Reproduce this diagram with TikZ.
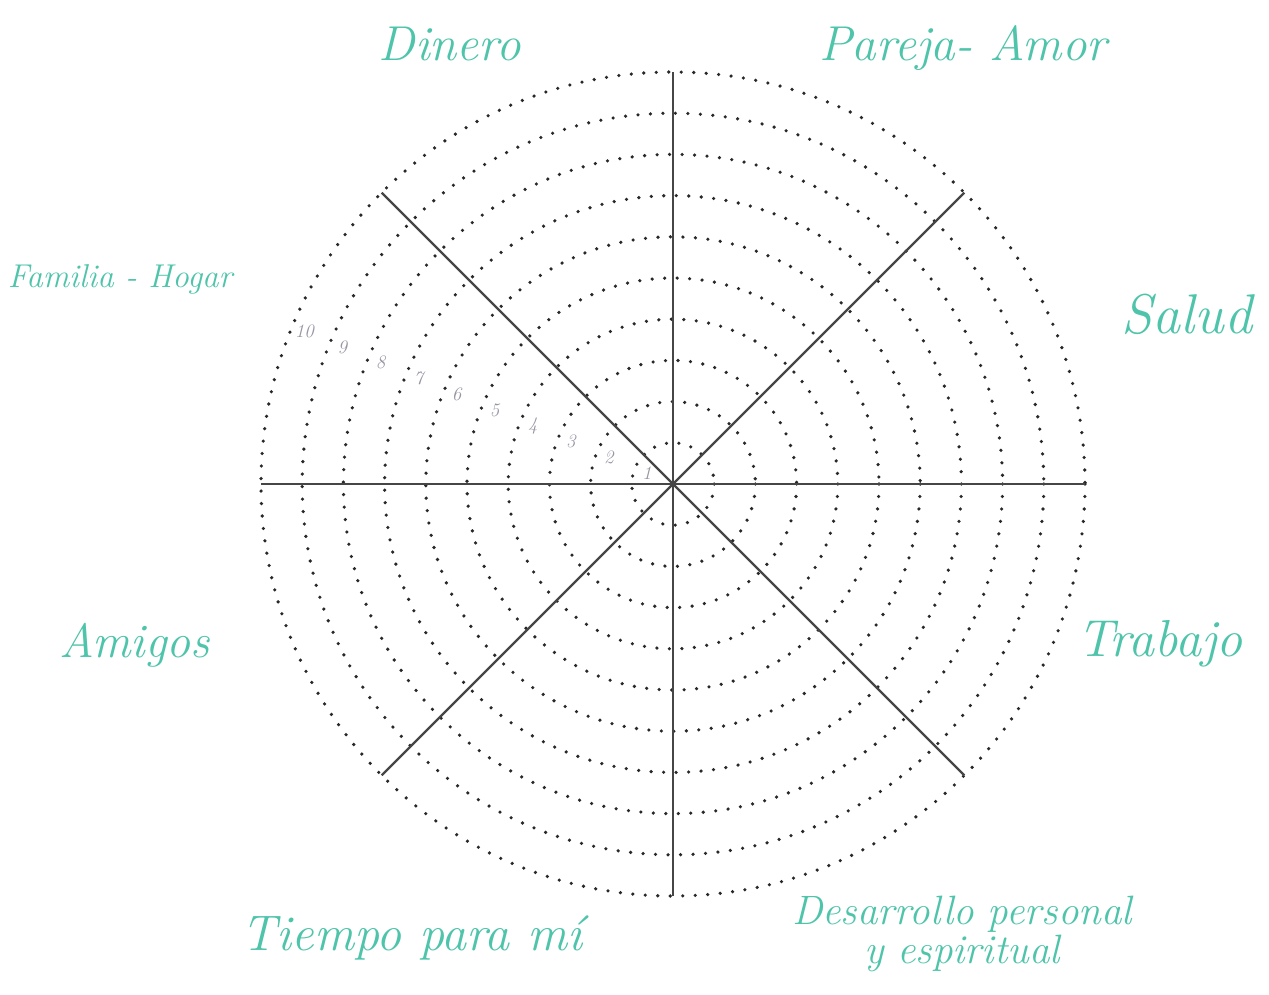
\documentclass[tikz,border=0pt]{standalone}
\usepackage{fontspec}
\definecolor{tealtxt}{RGB}{78,196,170}
\definecolor{numgray}{RGB}{150,150,165}
\definecolor{dotc}{RGB}{40,40,40}
\definecolor{axisc}{RGB}{70,70,70}
\begin{document}
\begin{tikzpicture}[x=1pt,y=-1pt,
  lab/.style={text=tealtxt, font=\itshape\fontsize{#1}{#1}\selectfont, inner sep=0pt, align=center},
  ring/.style={dotc, line width=3.6pt, line cap=round, dash pattern=on 0pt off 12.5pt},
  spoke/.style={axisc, line width=2.2pt},
  num/.style={text=numgray, font=\itshape\fontsize{19}{19}\selectfont, inner sep=0pt}]
\useasboundingbox[fill=white] (0,0) rectangle (1269,994);
\coordinate (C) at (673,484);
\begin{scope}[shift={(C)}]
  \foreach \k in {1,...,10}
    \draw[ring] (0,0) circle[radius=41.2*\k];
  \foreach \a in {0,45,90,135}{
    \coordinate (p\a) at (\a:412);
    \coordinate (q\a) at (\a+180:412);
    \draw[spoke] (p\a) -- (q\a);
  }
  \foreach \k in {1,...,10}
    \node[num] (n\k) at (202.5:41.2*\k-13) {\k};
\end{scope}
\node[lab=49] (dinero) at (450,44) {Dinero};
\node[lab=49] (pareja) at (963,48) {Pareja- Amor};
\node[lab=56] (salud) at (1187,314) {Salud};
\node[lab=33] (familia) at (120,279) {Familia - Hogar};
\node[lab=48] (amigos) at (135,645) {Amigos};
\node[lab=52] (trabajo) at (1160,644) {Trabajo};
\node[lab=50] (tiempo) at (412,938) {Tiempo para mí};
\node[lab=41, text width=440pt] (desarrollo) at (962,934) {Desarrollo personal\\[-2pt] y espiritual};
\end{tikzpicture}
\end{document}
